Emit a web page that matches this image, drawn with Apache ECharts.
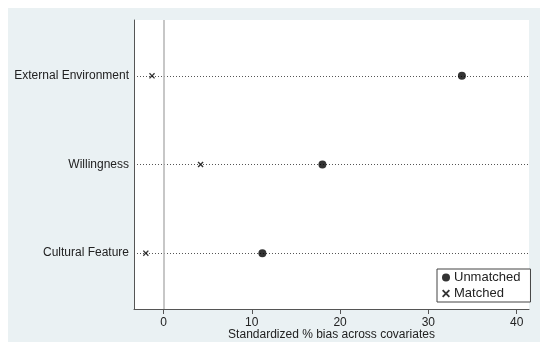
<!DOCTYPE html>
<html>
<head>
<meta charset="utf-8">
<script src="https://cdn.jsdelivr.net/npm/echarts@6/dist/echarts.min.js"></script>
<style>html,body{margin:0;padding:0;background:#fff}#c{width:550px;height:351px}</style>
</head>
<body>
<div id="c"></div>
<script>
const categories = ['Cultural Feature', 'Willingness', 'External Environment'];
const categoryPos = [1, 2, 3];
const unmatched = [11.2, 18.0, 33.8];
const matched = [-2.0, 4.2, -1.3];
const xTicks = [0, 10, 20, 30, 40];

const chart = echarts.init(document.getElementById('c'), null, {renderer: 'canvas'});
const font = 'Liberation Sans, Arial, Helvetica, sans-serif';
const xPath = 'path://M0,1.6L1.6,0L5,3.4L8.4,0L10,1.6L6.6,5L10,8.4L8.4,10L5,6.6L1.6,10L0,8.4L3.4,5Z';

chart.setOption({
  animation: false,
  backgroundColor: '#ffffff',
  graphic: [{
    type: 'rect', z: -10, silent: true,
    shape: {x: 8, y: 8, width: 532, height: 334},
    style: {fill: '#eaf1f3'}
  }],
  grid: {left: 134, top: 20, right: 21, bottom: 42, show: true, backgroundColor: '#ffffff', borderWidth: 0},
  xAxis: {
    type: 'value', min: -3.34, max: 41.4,
    name: 'Standardized % bias across covariates',
    nameLocation: 'middle', nameGap: 20, nameMoveOverlap: false,
    nameTextStyle: {fontFamily: font, fontSize: 12, color: '#222'},
    axisLine: {show: true, onZero: false, lineStyle: {color: '#555', width: 1}},
    axisTick: {show: true, customValues: xTicks, length: 5, lineStyle: {color: '#555'}},
    axisLabel: {customValues: xTicks, fontFamily: font, fontSize: 12, color: '#222', margin: 8},
    splitLine: {show: false}
  },
  yAxis: {
    type: 'value', min: 0.37, max: 3.63,
    axisLine: {show: true, onZero: false, lineStyle: {color: '#555', width: 1}},
    axisTick: {show: false},
    axisLabel: {
      customValues: categoryPos, fontFamily: font, fontSize: 12, color: '#222', margin: 5,
      formatter: v => categories[categoryPos.indexOf(Math.round(v))] || ''
    },
    splitLine: {show: false}
  },
  legend: {
    data: ['Unmatched', 'Matched'],
    orient: 'vertical', left: 437, top: 269,
    backgroundColor: '#ffffff', borderColor: '#444', borderWidth: 1,
    padding: [2, 10, 2, 5], itemGap: 3, itemWidth: 8, itemHeight: 8,
    textStyle: {fontFamily: font, fontSize: 13, color: '#222', padding: [0, 0, 0, -1]}
  },
  series: [
    {
      name: 'lines', type: 'scatter', data: [], z: 1, silent: true,
      markLine: {
        silent: true, symbol: 'none', label: {show: false}, animation: false,
        data: categoryPos.map(p => ({yAxis: p, lineStyle: {color: '#555', type: [1, 2], width: 1}}))
          .concat([{xAxis: 0, lineStyle: {color: '#b5b5b5', type: 'solid', width: 1.5}}])
      }
    },
    {
      name: 'Unmatched', type: 'scatter', z: 5, symbol: 'circle', symbolSize: 8,
      itemStyle: {color: '#000'},
      data: unmatched.map((v, i) => [v, categoryPos[i]])
    },
    {
      name: 'Matched', type: 'scatter', z: 5, symbol: xPath, symbolSize: 6,
      itemStyle: {color: '#000'},
      data: matched.map((v, i) => [v, categoryPos[i]])
    }
  ]
});
</script>
</body>
</html>
